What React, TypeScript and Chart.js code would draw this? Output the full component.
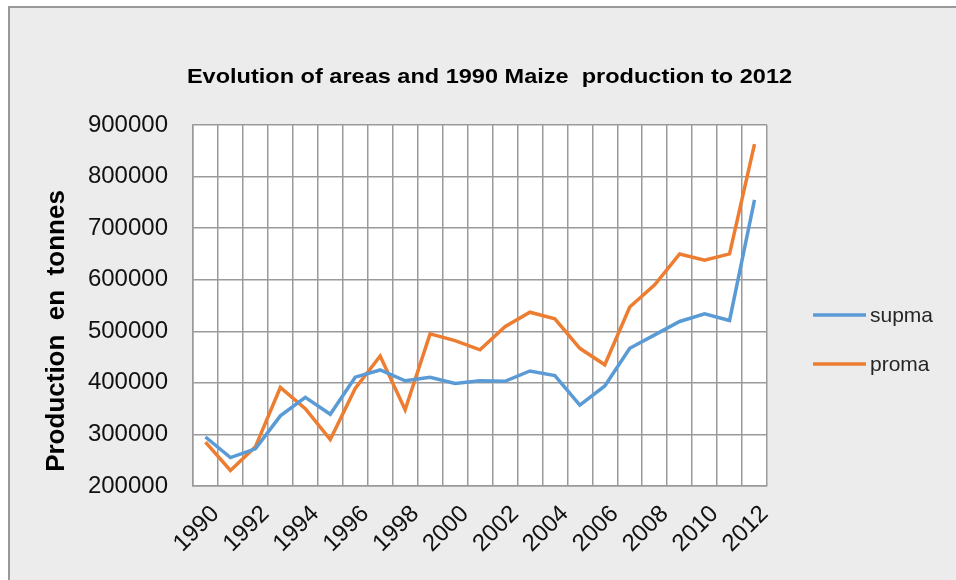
import React, { useEffect, useRef } from 'react';
import { Chart, registerables } from 'chart.js';

Chart.register(...registerables);

const years = ['1990', '1991', '1992', '1993', '1994', '1995', '1996', '1997', '1998', '1999', '2000', '2001', '2002', '2003', '2004', '2005', '2006', '2007', '2008', '2009', '2010', '2011', '2012'];
const supma = [295000, 255000, 272000, 336000, 372000, 339000, 411000, 425000, 404000, 411000, 399000, 404000, 403000, 423000, 414000, 357000, 394000, 467000, 493000, 519000, 534000, 521000, 755000];
const proma = [285000, 230000, 276000, 391000, 350000, 290000, 389000, 452000, 348000, 495000, 482000, 464000, 509000, 537000, 524000, 467000, 435000, 547000, 590000, 650000, 638000, 650000, 863000];
const seriesNames = ['supma', 'proma'];
const seriesColors = ['#5B9BD5', '#ED7D31'];
const yMin = 200000;
const yMax = 900000;
const yStep = 100000;
const chartTitle = 'Evolution of areas and 1990 Maize  production to 2012';
const yTitle = 'Production  en  tonnes';

const W = 946;
const H = 572;

export default function App() {
  const ref = useRef<HTMLCanvasElement>(null);

  useEffect(() => {
    if (!ref.current) return;
    const plotBg = {
      id: 'plotBg',
      beforeDraw(chart: any) {
        const { ctx, chartArea } = chart;
        ctx.save();
        ctx.fillStyle = '#ffffff';
        ctx.fillRect(chartArea.left, chartArea.top, chartArea.right - chartArea.left, chartArea.bottom - chartArea.top);
        ctx.restore();
      },
    };
    const overlay = {
      id: 'overlay',
      afterDraw(chart: any) {
        const ctx = chart.ctx;
        ctx.save();
        ctx.fillStyle = '#000000';
        ctx.textAlign = 'center';
        ctx.textBaseline = 'middle';
        ctx.save();
        ctx.translate(479.5, 69);
        ctx.scale(1.12, 1);
        ctx.font = 'bold 21px Arial, "Liberation Sans"';
        ctx.fillText(chartTitle, 0, 0);
        ctx.restore();

        ctx.save();
        ctx.translate(47, 323);
        ctx.rotate(-Math.PI / 2);
        ctx.font = 'bold 26px Arial, "Liberation Sans"';
        ctx.fillText(yTitle, 0, 0);
        ctx.restore();

        chart.data.datasets.forEach((ds: any, i: number) => {
          const y = 307 + i * 49;
          ctx.strokeStyle = ds.borderColor;
          ctx.lineWidth = 3.5;
          ctx.beginPath();
          ctx.moveTo(803, y);
          ctx.lineTo(856, y);
          ctx.stroke();
          ctx.font = '21px Arial, "Liberation Sans"';
          ctx.textAlign = 'left';
          ctx.fillStyle = '#262626';
          ctx.fillText(ds.label, 860, y + 1);
        });
        ctx.restore();
      },
    };

    const chart = new Chart(ref.current, {
      type: 'line',
      data: {
        labels: years,
        datasets: [
          { label: seriesNames[0], data: supma, borderColor: seriesColors[0], backgroundColor: seriesColors[0], borderWidth: 3.5, pointRadius: 0, tension: 0 },
          { label: seriesNames[1], data: proma, borderColor: seriesColors[1], backgroundColor: seriesColors[1], borderWidth: 3.5, pointRadius: 0, tension: 0 },
        ],
      },
      options: {
        responsive: false,
        animation: false,
        devicePixelRatio: 1,
        layout: { padding: { left: 0, right: 189, top: 117, bottom: 0 } },
        plugins: {
          legend: { display: false },
          title: { display: false },
          tooltip: { enabled: false },
        },
        scales: {
          x: {
            type: 'category',
            offset: true,
            grid: { offset: true, color: '#9a9a9a', lineWidth: 1.5, drawTicks: false },
            border: { color: '#9a9a9a', width: 1.5 },
            ticks: {
              autoSkip: false,
              maxRotation: 45,
              minRotation: 45,
              padding: 14,
              labelOffset: 10,
              color: '#111111',
              font: { family: 'Arial, "Liberation Sans"', size: 24 },
              callback: (_v: any, i: number) => (i % 2 === 0 ? years[i] : ''),
            },
            afterFit: (s: any) => { s.height = 94; },
          },
          y: {
            min: yMin,
            max: yMax,
            grid: { color: '#9a9a9a', lineWidth: 1.5, drawTicks: false },
            border: { color: '#9a9a9a', width: 1.5 },
            ticks: {
              stepSize: yStep,
              padding: 25,
              color: '#111111',
              font: { family: 'Arial, "Liberation Sans"', size: 24 },
              callback: (v: any) => String(v),
            },
            afterFit: (s: any) => { s.width = 183; },
          },
        },
      },
      plugins: [plotBg, overlay],
    });
    return () => chart.destroy();
  }, []);

  return (
    <div
      style={{
        position: 'fixed',
        left: 8,
        top: 6,
        right: 0,
        bottom: 0,
        background: '#ececec',
        borderTop: '2px solid #999999',
        borderLeft: '2px solid #999999',
        overflow: 'hidden',
      }}
    >
      <canvas ref={ref} width={W} height={H} style={{ display: 'block', width: W, height: H }} />
    </div>
  );
}
